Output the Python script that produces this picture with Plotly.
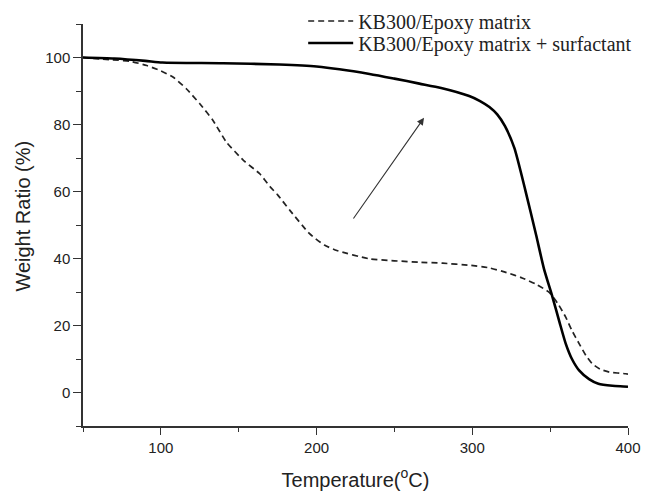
import plotly.graph_objects as go

# Temperature (°C) and weight ratio (%)
temp_plain = [50, 69, 80, 91, 100, 108, 116.5, 125, 133.5, 142, 153, 163.5, 170, 175,
              183, 195.5, 205, 213, 234, 266, 281, 298, 311, 322, 332, 341, 349.4,
              355, 360, 364, 368.6, 373, 377, 382, 388, 398.5, 400]
wt_plain = [100, 99.3, 98.9, 97.6, 96, 94.1, 90.6, 86.2, 81.2, 74.8, 69.3, 65.3, 61.5, 59,
            54.3, 47.4, 44, 42.4, 39.9, 38.9, 38.6, 38.0, 37.2, 35.8, 34.2, 32.3, 29.9,
            26.5, 22.5, 18.5, 14.6, 11, 8.6, 7, 6.1, 5.6, 5.5]

temp_surf = [50, 70, 90, 101, 140, 176, 200, 234, 250, 266, 280, 298, 305, 311, 316,
             321, 327, 334, 341, 346, 351.5, 356, 360, 364, 368.6, 375, 381, 390, 397, 400]
wt_surf = [100, 99.7, 99.0, 98.5, 98.3, 97.9, 97.3, 95.1, 93.7, 92.2, 90.9, 88.5, 87, 85.2,
           83.0, 79.5, 73, 60.5, 47, 37, 28.5, 21, 14.6, 10, 6.6, 4, 2.6, 2.0, 1.8, 1.7]

series_names = ["KB300/Epoxy matrix", "KB300/Epoxy matrix + surfactant"]

# arrow (data coordinates): tail and head
arrow_tail = (223, 51.5)
arrow_head = (269, 82)

x_ticks = [100, 200, 300, 400]
y_ticks = [0, 20, 40, 60, 80, 100]

fig = go.Figure()
fig.add_trace(go.Scatter(
    x=temp_plain, y=wt_plain, mode="lines", name=series_names[0], legend="legend",
    line=dict(color="#222222", width=1.7, dash="6px,4px", shape="spline", smoothing=0.5),
))
fig.add_trace(go.Scatter(
    x=temp_surf, y=wt_surf, mode="lines", name=series_names[1], legend="legend2",
    line=dict(color="#000000", width=2.6, shape="spline", smoothing=0.6),
))

fig.add_annotation(
    x=arrow_head[0], y=arrow_head[1], ax=arrow_tail[0], ay=arrow_tail[1],
    xref="x", yref="y", axref="x", ayref="y",
    text="", showarrow=True, arrowhead=2, arrowsize=1.3, arrowwidth=1.1,
    arrowcolor="#333333", standoff=0,
)

title_font = dict(family="Liberation Sans, Arial, sans-serif", size=20, color="#222222")

# y-axis title placed as rotated text (slightly above centre, as in the reference)
fig.add_annotation(
    text="Weight Ratio (%)", textangle=-90, showarrow=False,
    xref="paper", yref="paper", x=-0.110, y=0.521,
    xanchor="center", yanchor="middle", font=title_font,
)

axis_common = dict(
    showgrid=False, zeroline=False, showline=True, linecolor="#333333", linewidth=1.5,
    ticks="outside", tickcolor="#333333", tickwidth=1.3,
    tickfont=dict(family="Liberation Sans, Arial, sans-serif", size=15, color="#222222"),
    mirror=False,
)

fig.update_xaxes(
    range=[50, 400], tickvals=x_ticks, ticklen=7,
    minor=dict(dtick=50, tick0=0, ticks="outside", ticklen=4, tickcolor="#333333", tickwidth=1.2),
    title=dict(text="Temperature(<sup>o</sup>C)", font=title_font, standoff=18),
    **axis_common,
)
fig.update_yaxes(
    range=[-10, 110], tickvals=y_ticks, ticklen=8,
    minor=dict(dtick=10, tick0=0, ticks="outside", ticklen=5, tickcolor="#333333", tickwidth=1.2),
    **axis_common,
)

legend_font = dict(family="Liberation Serif, Times New Roman, serif", size=20, color="#222222")
fig.update_layout(
    width=646, height=491,
    margin=dict(l=83, r=18, t=24, b=65, autoexpand=False),
    plot_bgcolor="white", paper_bgcolor="white",
    showlegend=True,
    legend=dict(
        x=0.404, y=1.0075, xanchor="left", yanchor="middle",
        bgcolor="rgba(0,0,0,0)", borderwidth=0, font=legend_font, itemwidth=45,
    ),
    legend2=dict(
        x=0.404, y=0.9527, xanchor="left", yanchor="middle",
        bgcolor="rgba(0,0,0,0)", borderwidth=0, font=legend_font, itemwidth=45,
    ),
)

fig.write_html("out.html")
